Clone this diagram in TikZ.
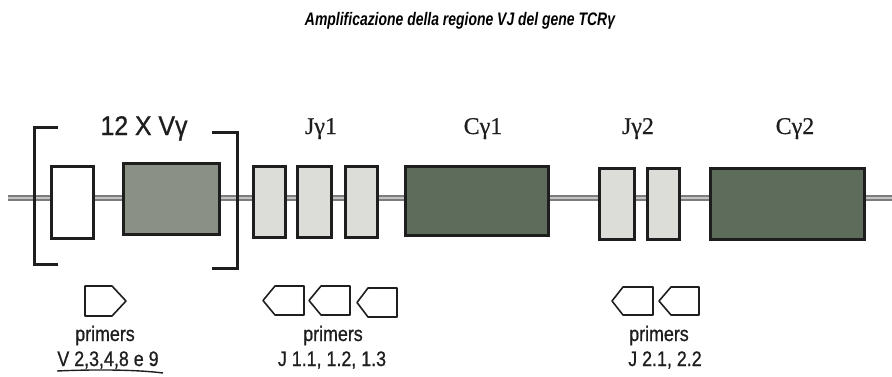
\documentclass[tikz,border=0pt]{standalone}
\usepackage{fontspec}
\setmainfont{Liberation Sans}
\newfontfamily\seriffont[FakeBold=0.6]{Liberation Serif}
\newfontfamily\narrowfont[FakeStretch=0.85,FakeBold=0.8]{Liberation Sans}
\newfontfamily\vlabfont[FakeStretch=0.92,FakeBold=1]{Liberation Sans}
\definecolor{vgray}{HTML}{8A9086}
\definecolor{cgreen}{HTML}{5E6C5B}
\definecolor{jlight}{HTML}{DCDDD8}
\definecolor{dnagray}{HTML}{7C7C7C}
\definecolor{dnalight}{HTML}{C4C4C4}
\definecolor{ink}{HTML}{1E1E1E}
\begin{document}
\begin{tikzpicture}[x=1pt,y=-1pt,
  exonbox/.style={draw=ink, line width=3pt, inner sep=0pt, line join=miter},
  bracketline/.style={draw=ink, line width=3pt, line join=miter},
  primerarrow/.style={draw=ink, line width=1.6pt, line join=round},
  genelab/.style={anchor=base, inner sep=0pt, text=ink, font=\seriffont\fontsize{24}{26}\selectfont},
  primlab/.style={anchor=base, inner sep=0pt, text=ink, font=\narrowfont\fontsize{21}{23}\selectfont},
  dnaouter/.style={draw=dnagray, line width=6pt},
  dnainner/.style={draw=dnalight, line width=2pt}]
\useasboundingbox (0,0) rectangle (892,376);
% title
\node[anchor=base, inner sep=0pt] (title) at (460,25)
  {\scalebox{1}[1.3]{\resizebox{310pt}{!}{\bfseries\itshape Amplificazione della regione VJ del gene TCRγ}}};
% DNA line
\coordinate (dnas) at (8,198);
\coordinate (dnae) at (892,198);
\draw[dnaouter] (dnas) -- (dnae);
\draw[dnainner] (dnas) -- (dnae);
% brackets
\draw[bracketline] (58,127) -- (34,127) -- (34,264) -- (58,264);
\draw[bracketline] (212,132) -- (237,132) -- (237,268) -- (212,268);
% exons
\node[exonbox, fill=white, minimum width=42pt, minimum height=72pt] (vw) at (72.5,202.5) {};
\node[exonbox, fill=vgray, minimum width=96pt, minimum height=71pt] (vg) at (171.5,199) {};
\node[exonbox, fill=jlight, minimum width=32pt, minimum height=71pt] (j1a) at (269.5,202) {};
\node[exonbox, fill=jlight, minimum width=34pt, minimum height=71pt] (j1b) at (314.5,202) {};
\node[exonbox, fill=jlight, minimum width=32pt, minimum height=71pt] (j1c) at (361.5,202) {};
\node[exonbox, fill=cgreen, minimum width=143pt, minimum height=69pt] (c1) at (477,201) {};
\node[exonbox, fill=jlight, minimum width=35pt, minimum height=71pt] (j2a) at (617,204) {};
\node[exonbox, fill=jlight, minimum width=32pt, minimum height=71pt] (j2b) at (663.5,204) {};
\node[exonbox, fill=cgreen, minimum width=154pt, minimum height=71pt] (c2) at (787.5,204) {};
% gene labels
\node[anchor=base, inner sep=0pt, text=ink, font=\vlabfont\fontsize{27}{29}\selectfont] (vlab) at (144,135) {12 X Vγ};
\node[genelab] (j1lab) at (321,134) {Jγ1};
\node[genelab] (c1lab) at (483,134) {Cγ1};
\node[genelab] (j2lab) at (638,134) {Jγ2};
\node[genelab] (c2lab) at (795,134) {Cγ2};
% primers
\draw[primerarrow] (85,286) -- (112,286) -- (126,301) -- (112,316) -- (85,316) -- cycle;
\draw[primerarrow] (263,300.5) -- (275,286) -- (304,286) -- (304,315) -- (275,315) -- cycle;
\draw[primerarrow] (309,300.5) -- (321,286) -- (350,286) -- (350,315) -- (321,315) -- cycle;
\draw[primerarrow] (357,302.5) -- (368,288) -- (397,288) -- (397,317) -- (368,317) -- cycle;
\draw[primerarrow] (612,301) -- (623,287) -- (653,287) -- (653,315) -- (623,315) -- cycle;
\draw[primerarrow] (659,301) -- (671,287) -- (699,287) -- (699,315) -- (671,315) -- cycle;
% primer labels
\node[primlab] (p1) at (105,341) {primers};
\node[primlab] (p2) at (333,341) {primers};
\node[primlab] (p3) at (659,341) {primers};
\node[primlab] (v1) at (108,366) {V 2,3,4,8 e 9};
\node[primlab] (jj1) at (332,366) {J 1.1, 1.2, 1.3};
\node[primlab] (jj2) at (665,366) {J 2.1, 2.2};
\draw[line width=1.4pt, draw=ink] (57,371) .. controls (100,369) and (140,370) .. (163,373);
\end{tikzpicture}
\end{document}
